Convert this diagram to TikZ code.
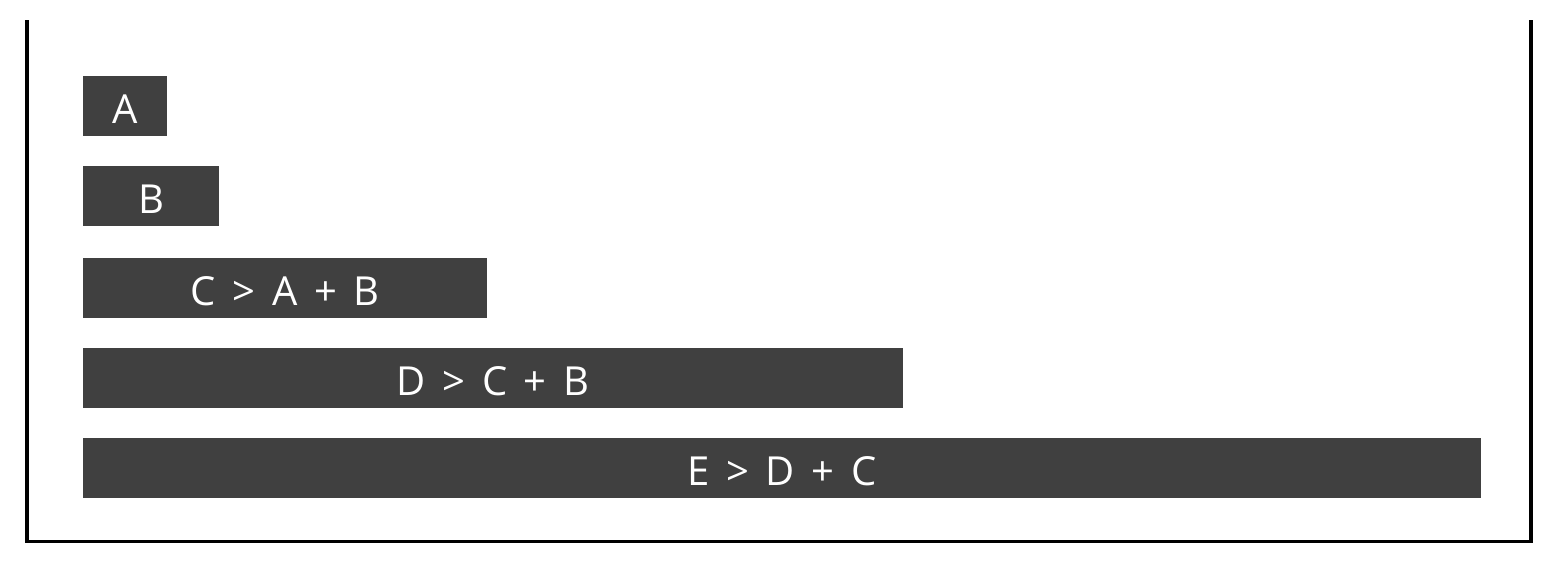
\documentclass[tikz,border=0pt]{standalone}
\usepackage{fontspec}
\setmainfont{Open Sans}
\definecolor{barfill}{HTML}{404040}
\newcommand\barfont{\fontsize{30}{32}\selectfont\spaceskip 12.5pt\relax}
\tikzset{
  bar/.style={fill=barfill, text=white, minimum height=45pt, inner sep=0pt,
    text height=25.5pt, text depth=0pt, font=\barfont},
  frame/.style={line width=2.6pt, line cap=rect},
}
\begin{document}
\begin{tikzpicture}[x=0.75pt, y=-0.75pt]
  \useasboundingbox (0,0) rectangle (1562,564);
  \node[bar, minimum width=63pt] (a) at (125,106) {A};
  \node[bar, minimum width=102pt] (b) at (151,196) {B};
  \node[bar, minimum width=303pt] (c) at (285,288) {C > A + B};
  \node[bar, minimum width=615pt] (d) at (493,378) {D > C + B};
  \node[bar, minimum width=1048.5pt] (e) at (782,468) {E > D + C};
  \draw[frame] (27,22) -- (27,541.5) -- (1531,541.5) -- (1531,22);
\end{tikzpicture}
\end{document}
